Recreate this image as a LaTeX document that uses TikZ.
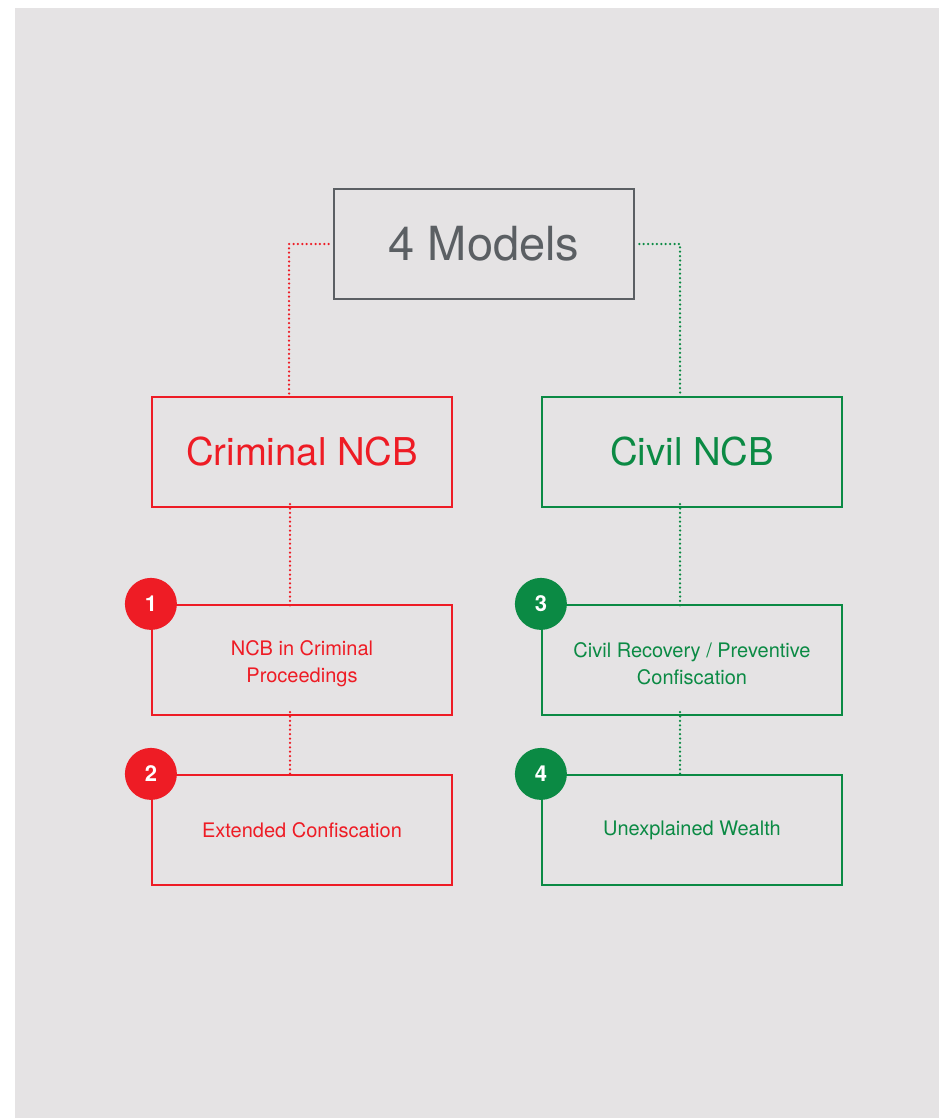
\documentclass[tikz,border=0pt]{standalone}
\usepackage{fontspec}
\setmainfont{TeX Gyre Heros}
\definecolor{bg}{HTML}{E5E3E4}
\definecolor{ncbred}{HTML}{EE1C25}
\definecolor{ncbgreen}{HTML}{0B8A44}
\definecolor{ncbgray}{HTML}{5B5F63}
\begin{document}
\begin{tikzpicture}[x=1pt,y=-1pt,
  topbox/.style={draw=ncbgray,line width=2.6pt,minimum width=300pt,minimum height=110pt,inner sep=0pt,text=ncbgray,font=\fontsize{47}{50}\selectfont},
  midbox/.style={draw=#1,line width=2.2pt,minimum width=300pt,minimum height=110pt,inner sep=0pt,text=#1,font=\fontsize{38.3}{42}\selectfont},
  itembox/.style={draw=#1,line width=2.2pt,minimum width=300pt,minimum height=110pt,inner sep=0pt,text=#1,align=center,font=\fontsize{20}{27}\selectfont},
  itemtext/.style={inner sep=0pt,text=#1,align=center,font=\fontsize{20}{27}\selectfont},
  badge/.style={circle,fill=#1,minimum size=52pt,inner sep=0pt,text=white,font=\fontsize{22}{24}\selectfont\bfseries},
  dotline/.style={draw=#1,line width=2.5pt,line cap=round,dash pattern=on 0pt off 4.4pt}
]
\useasboundingbox (0,0) rectangle (939,1118);
\fill[bg] (15,8) rectangle (939,1118);

\node[topbox] (top) at (484,244) {4 Models};
\node[midbox=ncbred] (crim) at (302,452) {Criminal NCB};
\node[midbox=ncbgreen] (civ) at (692,452) {Civil NCB};
\node[itembox=ncbred] (b1) at (302,660) {};
\node[itemtext=ncbred] (t1) at (302,664) {NCB in Criminal\\Proceedings};
\node[itembox=ncbred] (b2) at (302,830) {Extended Confiscation};
\node[itembox=ncbgreen] (b3) at (692,660) {};
\node[itemtext=ncbgreen] (t3) at (692,664) {Civil Recovery / Preventive\\Confiscation};
\node[itembox=ncbgreen] (b4) at (692,830) {Unexplained Wealth};

\node[badge=ncbred] (n1) at (b1.north west) {1};
\node[badge=ncbred] (n2) at (b2.north west) {2};
\node[badge=ncbgreen] (n3) at (b3.north west) {3};
\node[badge=ncbgreen] (n4) at (b4.north west) {4};

\draw[dotline=ncbred] ([xshift=-4pt]top.west) -| ([xshift=-13pt]crim.north);
\draw[dotline=ncbgreen] ([xshift=4pt]top.east) -| ([xshift=-12pt]civ.north);
\draw[dotline=ncbred] ([xshift=-12pt,yshift=4pt]crim.south) -- ([xshift=-12pt,yshift=-4pt]b1.north);
\draw[dotline=ncbred] ([xshift=-12pt,yshift=4pt]b1.south) -- ([xshift=-12pt,yshift=-4pt]b2.north);
\draw[dotline=ncbgreen] ([xshift=-12pt,yshift=4pt]civ.south) -- ([xshift=-12pt,yshift=-4pt]b3.north);
\draw[dotline=ncbgreen] ([xshift=-12pt,yshift=4pt]b3.south) -- ([xshift=-12pt,yshift=-4pt]b4.north);
\end{tikzpicture}
\end{document}
